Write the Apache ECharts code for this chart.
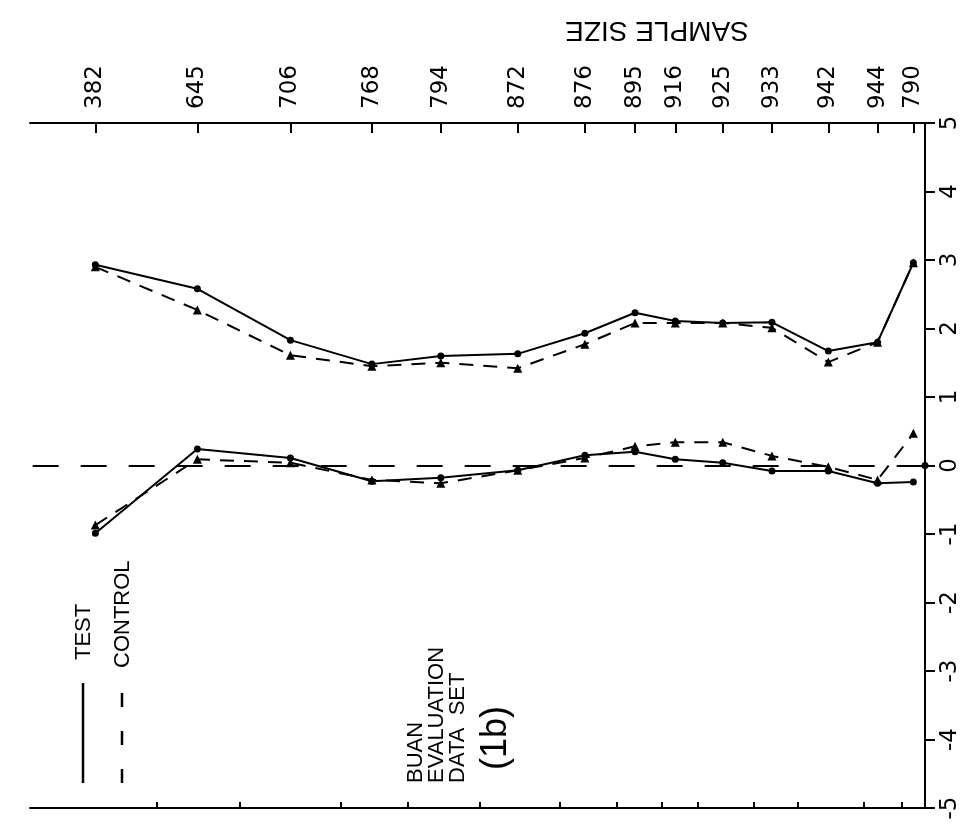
<!DOCTYPE html>
<html><head><meta charset="utf-8">
<script src="https://cdn.jsdelivr.net/npm/echarts@6/dist/echarts.min.js"></script>
<style>html,body{margin:0;padding:0;background:#fff}#c{width:971px;height:828px}</style>
</head><body><div id="c"></div>
<script>
// Sample size labels along the sequence axis (top)
const sampleSize = ['382','645','706','768','794','872','876','895','916','925','933','942','944','790'];
// Position of each evaluation along the horizontal sequence axis (arbitrary units 0-100)
const xPos = [7.3, 18.7, 29.1, 38.2, 45.9, 54.5, 62.0, 67.6, 72.1, 77.4, 82.9, 89.2, 94.7, 98.7];
// Unlabelled tick marks on the bottom edge (same units)
const bottomTicks = [14.2, 23.4, 34.7, 42.2, 50.2, 59.2, 65.6, 70.6, 74.6, 80.9, 85.8, 93.2, 97.4];
// Upper pair of curves
const upperTest    = [2.93, 2.58, 1.83, 1.48, 1.60, 1.63, 1.93, 2.23, 2.11, 2.08, 2.09, 1.67, 1.80, 2.96];
const upperControl = [2.90, 2.27, 1.61, 1.45, 1.50, 1.42, 1.77, 2.08, 2.08, 2.08, 2.01, 1.51, 1.80, 2.96];
// Lower pair of curves
const lowerTest    = [-0.99, 0.24, 0.11, -0.23, -0.18, -0.07, 0.15, 0.20, 0.09, 0.04, -0.08, -0.08, -0.26, -0.24];
const lowerControl = [-0.87, 0.09, 0.04, -0.21, -0.26, -0.07, 0.11, 0.28, 0.34, 0.34, 0.14, -0.02, -0.21, 0.47];

const pairs = arr => arr.map((v, i) => [xPos[i], v]);
const BLACK = '#000';
const NUMFONT = 'DejaVu Sans';
const TXTFONT = 'Liberation Sans, Arial, sans-serif';

function testSeries(arr, extra) {
  return Object.assign({
    type: 'line', xAxisIndex: 0, yAxisIndex: 0, data: pairs(arr),
    symbol: 'circle', symbolSize: 7, silent: true,
    lineStyle: { color: BLACK, width: 2 }, itemStyle: { color: BLACK }
  }, extra || {});
}
function controlSeries(arr) {
  return {
    type: 'line', xAxisIndex: 0, yAxisIndex: 0, data: pairs(arr),
    symbol: 'triangle', symbolSize: 9, silent: true,
    lineStyle: { color: BLACK, width: 2, type: [14, 10] }, itemStyle: { color: BLACK }
  };
}

const chart = echarts.init(document.getElementById('c'), null, { renderer: 'canvas' });
chart.setOption({
  animation: false,
  backgroundColor: '#fff',
  grid: { left: 30, right: 46, top: 123, bottom: 20, containLabel: false },
  xAxis: [
    {
      type: 'value', position: 'top', min: 0, max: 100,
      axisLine: { show: true, onZero: false, lineStyle: { color: BLACK, width: 2 } },
      axisTick: { show: true, inside: true, length: 10, customValues: xPos, lineStyle: { color: BLACK, width: 2 } },
      axisLabel: {
        show: true, customValues: xPos, rotate: -90, margin: 14,
        fontSize: 23, fontFamily: NUMFONT, color: BLACK,
        formatter: v => { const i = xPos.indexOf(v); return i >= 0 ? sampleSize[i] : ''; }
      },
      splitLine: { show: false }
    },
    {
      type: 'value', position: 'bottom', min: 0, max: 100,
      axisLine: { show: true, onZero: false, lineStyle: { color: BLACK, width: 2 } },
      axisTick: { show: true, inside: true, length: 6, customValues: bottomTicks, lineStyle: { color: BLACK, width: 2 } },
      axisLabel: { show: false },
      splitLine: { show: false }
    }
  ],
  yAxis: {
    type: 'value', position: 'right', min: -5, max: 5, interval: 1,
    axisLine: { show: true, onZero: false, lineStyle: { color: BLACK, width: 2 } },
    axisTick: { show: true, inside: false, length: 10, lineStyle: { color: BLACK, width: 2 } },
    axisLabel: { show: true, rotate: 90, margin: 14, fontSize: 23, fontFamily: NUMFONT, color: BLACK },
    splitLine: { show: false }
  },
  series: [
    testSeries(upperTest),
    controlSeries(upperControl),
    testSeries(lowerTest, {
      markLine: {
        silent: true, symbol: ['none', 'circle'], symbolSize: 7,
        label: { show: false },
        itemStyle: { color: BLACK },
        lineStyle: { color: BLACK, width: 2, type: [26, 22] },
        data: [[{ coord: [0.3, 0] }, { coord: [100, 0] }]]
      }
    }),
    controlSeries(lowerControl)
  ],
  graphic: [
    { type: 'text', x: 657, y: 30, rotation: Math.PI,
      style: { text: 'SAMPLE SIZE', font: '28px ' + TXTFONT, fill: BLACK, textAlign: 'center', textVerticalAlign: 'middle' } },
    // legend
    { type: 'line', shape: { x1: 83, y1: 783, x2: 83, y2: 683 }, style: { stroke: BLACK, lineWidth: 2.5 } },
    { type: 'text', x: 84, y: 660, rotation: Math.PI / 2,
      style: { text: 'TEST', font: '22px ' + TXTFONT, fill: BLACK, textAlign: 'left', textVerticalAlign: 'middle' } },
    { type: 'line', shape: { x1: 122, y1: 783, x2: 122, y2: 688 }, style: { stroke: BLACK, lineWidth: 2.5, lineDash: [14, 24] } },
    { type: 'text', x: 123, y: 668, rotation: Math.PI / 2,
      style: { text: 'CONTROL', font: '22px ' + TXTFONT, fill: BLACK, textAlign: 'left', textVerticalAlign: 'middle' } },
    // data set annotation
    { type: 'text', x: 416, y: 783, rotation: Math.PI / 2,
      style: { text: 'BUAN', font: '22px ' + TXTFONT, fill: BLACK, textAlign: 'left', textVerticalAlign: 'middle' } },
    { type: 'text', x: 437, y: 783, rotation: Math.PI / 2,
      style: { text: 'EVALUATION', font: '22px ' + TXTFONT, fill: BLACK, textAlign: 'left', textVerticalAlign: 'middle' } },
    { type: 'text', x: 458, y: 783, rotation: Math.PI / 2,
      style: { text: 'DATA  SET', font: '22px ' + TXTFONT, fill: BLACK, textAlign: 'left', textVerticalAlign: 'middle' } },
    { type: 'text', x: 496, y: 738, rotation: Math.PI / 2,
      style: { text: '(1b)', font: '36px ' + TXTFONT, fill: BLACK, textAlign: 'center', textVerticalAlign: 'middle' } }
  ]
});
</script></body></html>
